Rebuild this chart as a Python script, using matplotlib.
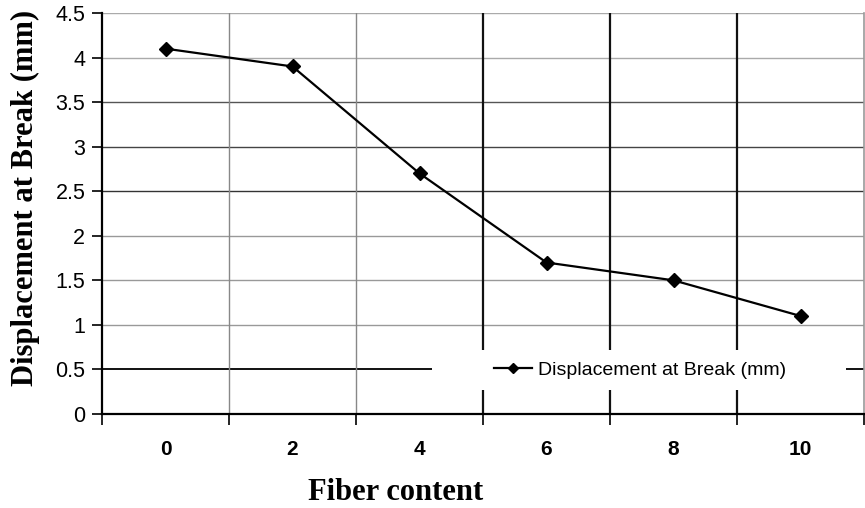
import matplotlib
matplotlib.use("Agg")
import matplotlib.pyplot as plt
from matplotlib.patches import Rectangle
import numpy as np

# Data
fiber_content = ["0", "2", "4", "6", "8", "10"]
displacement = [4.1, 3.9, 2.7, 1.7, 1.5, 1.1]
y_ticks = [0, 0.5, 1, 1.5, 2, 2.5, 3, 3.5, 4, 4.5]
series_name = "Displacement at Break (mm)"

fig = plt.figure(figsize=(8.65, 5.08), dpi=100)
ax = fig.add_axes([102 / 865, 94 / 508, 762 / 865, 401 / 508])

pos = np.arange(len(fiber_content))
ax.set_xlim(-0.5, len(fiber_content) - 0.5)
ax.set_ylim(0, 4.5)

# Horizontal gridlines (shade varies across the plot)
h_colors = {0.5: "#111111", 1: "#999999", 1.5: "#999999", 2: "#999999",
            2.5: "#333333", 3: "#444444", 3.5: "#555555", 4: "#aaaaaa",
            4.5: "#aaaaaa"}
for yv in y_ticks[1:]:
    c = h_colors.get(yv, "#888888")
    lw = 1.4 if yv == 0.5 else 1.0
    ax.axhline(yv, color=c, lw=lw, zorder=1)

# Vertical gridlines at category boundaries
bounds = np.arange(-0.5, len(fiber_content) + 0.5, 1.0)
v_colors = ["#888888", "#888888", "#111111", "#111111", "#111111"]
v_widths = [1.0, 1.0, 1.6, 1.6, 1.6]
for b, c, w in zip(bounds[1:-1], v_colors, v_widths):
    ax.axvline(b, color=c, lw=w, zorder=1)

ax.plot(pos, displacement, color="black", lw=1.6, marker="D", markersize=7,
        markerfacecolor="black", markeredgecolor="black", label=series_name,
        zorder=5, clip_on=False)

# Spines
ax.spines["top"].set_visible(False)
ax.spines["right"].set_color("#999999")
ax.spines["right"].set_linewidth(1.2)
ax.spines["left"].set_linewidth(1.6)
ax.spines["bottom"].set_linewidth(1.6)

# Ticks
ax.set_yticks(y_ticks)
ax.set_yticklabels([f"{v:g}" for v in y_ticks], family="Liberation Sans", fontsize=15.5)
ax.tick_params(axis="y", direction="out", length=7, width=1.2, pad=5)

ax.set_xticks(bounds)
ax.set_xticklabels([])
ax.tick_params(axis="x", which="major", direction="out", length=8, width=1.2)
ax.set_xticks(pos, minor=True)
ax.set_xticklabels(fiber_content, minor=True, family="Liberation Sans",
                   fontsize=15, fontweight="bold")
ax.tick_params(axis="x", which="minor", length=0, pad=19)

ax.set_xlabel("Fiber content", family="Liberation Serif", fontsize=22,
              fontweight="bold", va="center")
ax.xaxis.set_label_coords((396 - 102) / 762, (414 - 492) / 401)
ax.set_ylabel(series_name, family="Liberation Serif", fontsize=22,
              fontweight="bold", va="center")
ax.yaxis.set_label_coords((25 - 102) / 762, (414 - 198) / 401)

# White band behind the legend
ax.add_patch(Rectangle((0.433, 0.060), 0.543, 0.0998, transform=ax.transAxes,
                       facecolor="white", edgecolor="none", zorder=3))

leg = ax.legend(loc="center", bbox_to_anchor=(0.706, 0.1097),
                bbox_transform=ax.transAxes, frameon=False,
                prop={"family": "Liberation Sans", "size": 14},
                handlelength=2.0, handletextpad=0.3, borderpad=0,
                borderaxespad=0, markerscale=0.75)
leg.set_zorder(4)

fig.savefig("out.png", dpi=100)
